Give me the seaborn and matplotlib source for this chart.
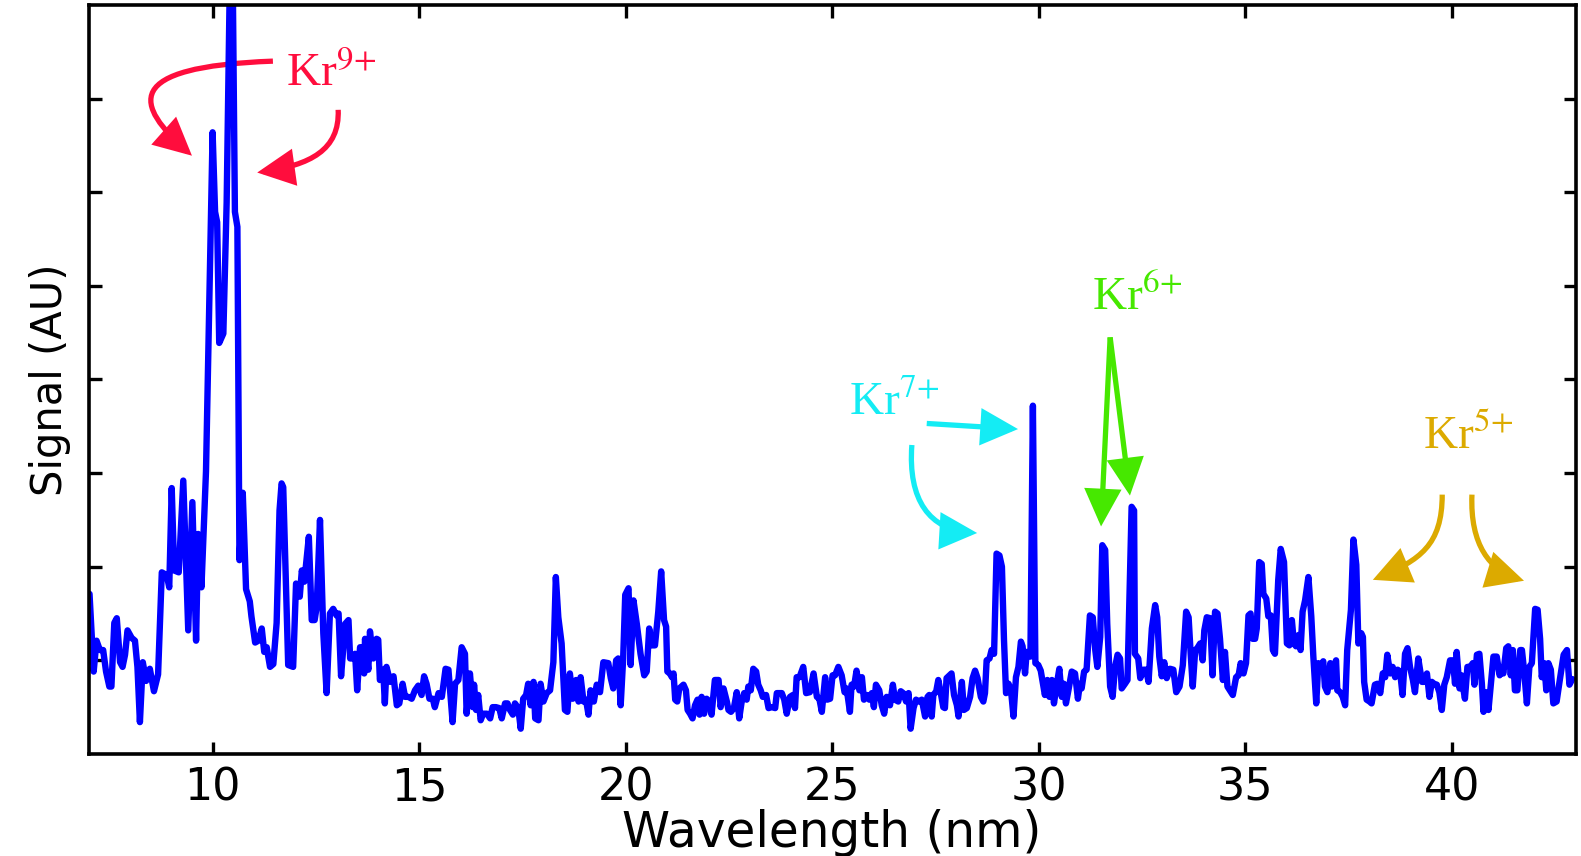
import numpy as np
import pandas as pd
import matplotlib
matplotlib.use("Agg")
import matplotlib.pyplot as plt
import seaborn as sns
from matplotlib.patches import FancyArrowPatch
from matplotlib.path import Path

# ---------------- data ----------------
wl_a = [7.02, 7.12, 7.19, 7.27, 7.35, 7.42, 7.50, 7.55, 7.62, 7.68,
        7.76, 7.82, 7.88, 7.94, 8.04, 8.12, 8.18, 8.24, 8.31, 8.39,
        8.48, 8.58, 8.68, 8.77, 8.89, 8.95, 9.01, 9.07, 9.18, 9.29,
        9.41, 9.51, 9.60, 9.65, 9.73, 9.84, 10.00, 10.06, 10.11, 10.16,
        10.26, 10.34, 10.46, 10.54, 10.60, 10.65, 10.73, 10.81, 10.90, 10.94,
        11.03, 11.11, 11.19, 11.25, 11.31, 11.39, 11.47, 11.55, 11.62, 11.67,
        11.71]
sig_a = [1.71, 0.88, 1.21, 1.11, 1.11, 0.88, 0.72, 0.72, 1.40, 1.45,
         0.98, 0.93, 1.06, 1.32, 1.24, 1.21, 0.93, 0.34, 0.98, 0.78,
         0.91, 0.67, 0.85, 1.94, 1.91, 1.78, 2.84, 1.96, 1.94, 2.92,
         1.32, 2.69, 1.21, 2.35, 1.78, 3.02, 6.64, 5.79, 5.68, 4.39,
         4.49, 5.89, 9.60, 5.79, 5.63, 2.07, 2.79, 1.76, 1.63, 1.47,
         1.19, 1.21, 1.34, 1.09, 1.14, 0.93, 0.96, 1.40, 2.60, 2.89,
         2.85]

wl_b = [11.83, 11.95, 12.02, 12.11, 12.16, 12.22, 12.33, 12.40, 12.47, 12.52,
        12.60, 12.68, 12.76, 12.84, 12.92, 13.00, 13.05, 13.11, 13.21, 13.29,
        13.33, 13.41, 13.45, 13.50, 13.57, 13.61, 13.67, 13.69, 13.77, 13.81,
        13.89, 13.97, 14.01, 14.05, 14.13, 14.17, 14.21, 14.30, 14.38, 14.46,
        14.52, 14.60, 14.66, 14.74, 14.82, 14.90, 14.98, 15.06, 15.12, 15.18,
        15.25, 15.33, 15.38, 15.47, 15.55, 15.64, 15.71, 15.81, 15.87, 15.95,
        16.03, 16.11, 16.15, 16.23, 16.30]
sig_b = [0.95, 0.93, 1.82, 1.68, 1.96, 1.84, 2.32, 1.43, 1.43, 1.57,
         2.50, 1.29, 0.65, 1.50, 1.55, 1.48, 1.50, 0.83, 1.39, 1.43,
         1.02, 1.02, 1.07, 0.68, 1.14, 1.14, 0.86, 1.23, 0.90, 1.31,
         1.02, 1.23, 1.22, 0.79, 0.90, 0.54, 0.93, 0.77, 0.83, 0.52,
         0.54, 0.75, 0.61, 0.61, 0.59, 0.68, 0.73, 0.63, 0.83, 0.75,
         0.59, 0.59, 0.50, 0.65, 0.61, 0.91, 0.90, 0.34, 0.75, 0.79,
         1.14, 1.07, 0.43, 0.86, 0.50]

wl_c = [16.33, 16.38, 16.43, 16.49, 16.55, 16.64, 16.72, 16.78, 16.86, 16.94,
        17.00, 17.08, 17.14, 17.20, 17.27, 17.32, 17.40, 17.46, 17.52, 17.59,
        17.64, 17.70, 17.77, 17.81, 17.89, 17.94, 18.01, 18.09, 18.17, 18.25,
        18.31, 18.37, 18.45, 18.53, 18.59, 18.65, 18.72, 18.80, 18.86, 18.91,
        18.98, 19.04, 19.10, 19.15, 19.23, 19.30, 19.38, 19.46, 19.58, 19.64,
        19.70, 19.77, 19.82, 19.88, 19.94, 19.99, 20.07, 20.12, 20.19, 20.27,
        20.36, 20.45, 20.51, 20.57, 20.63, 20.71, 20.79, 20.86]
sig_c = [0.74, 0.47, 0.63, 0.36, 0.43, 0.43, 0.38, 0.50, 0.50, 0.49,
         0.38, 0.54, 0.54, 0.47, 0.42, 0.54, 0.49, 0.27, 0.59, 0.63,
         0.75, 0.52, 0.77, 0.38, 0.36, 0.75, 0.56, 0.65, 0.68, 0.98,
         1.89, 1.46, 1.18, 0.47, 0.45, 0.86, 0.59, 0.79, 0.56, 0.82,
         0.56, 0.58, 0.42, 0.68, 0.56, 0.74, 0.66, 0.98, 0.97, 0.81,
         0.70, 1.00, 1.02, 0.52, 1.02, 1.70, 1.77, 0.95, 1.64, 1.39,
         1.07, 0.84, 0.88, 1.34, 1.16, 1.16, 1.52, 1.95]

wl_d = [20.93, 20.98, 21.01, 21.07, 21.12, 21.16, 21.20, 21.25, 21.30, 21.40,
        21.46, 21.50, 21.56, 21.62, 21.68, 21.74, 21.79, 21.84, 21.90, 21.96,
        22.03, 22.08, 22.16, 22.25, 22.30, 22.37, 22.45, 22.49, 22.55, 22.62,
        22.69, 22.75, 22.81, 22.87, 22.93, 22.97, 23.03, 23.09, 23.16, 23.21,
        23.27, 23.32, 23.40, 23.46, 23.54, 23.62, 23.66, 23.78, 23.84, 23.90,
        23.98, 24.05, 24.10, 24.14, 24.21, 24.30, 24.37, 24.46, 24.55, 24.63,
        24.69, 24.75, 24.83, 24.88, 24.95, 25.01, 25.07, 25.15, 25.23, 25.30,
        25.35, 25.43]
sig_d = [1.43, 1.36, 0.88, 0.86, 0.82, 0.86, 0.58, 0.56, 0.70, 0.74,
         0.68, 0.47, 0.43, 0.38, 0.52, 0.58, 0.42, 0.61, 0.43, 0.59,
         0.56, 0.42, 0.79, 0.79, 0.50, 0.70, 0.56, 0.47, 0.45, 0.49,
         0.66, 0.38, 0.56, 0.65, 0.58, 0.72, 0.68, 0.91, 0.88, 0.74,
         0.68, 0.61, 0.63, 0.49, 0.50, 0.49, 0.65, 0.65, 0.58, 0.43,
         0.61, 0.63, 0.49, 0.82, 0.82, 0.93, 0.65, 0.66, 0.86, 0.61,
         0.59, 0.45, 0.82, 0.58, 0.59, 0.84, 0.84, 0.93, 0.84, 0.66,
         0.70, 0.45]

wl_e = [25.47, 25.53, 25.59, 25.66, 25.72, 25.77, 25.84, 25.90, 25.96, 26.01,
        26.06, 26.14, 26.20, 26.26, 26.32, 26.40, 26.47, 26.52, 26.60, 26.66,
        26.72, 26.79, 26.85, 26.90, 26.97, 27.03, 27.09, 27.17, 27.25, 27.31,
        27.35, 27.41, 27.45, 27.52, 27.57, 27.63, 27.69, 27.73, 27.77, 27.84,
        27.89, 27.95, 28.02, 28.06, 28.14, 28.19, 28.26, 28.34, 28.40, 28.46,
        28.52, 28.60, 28.66, 28.70, 28.74, 28.81, 28.86, 28.92, 28.98, 29.05,
        29.11, 29.16, 29.21, 29.27, 29.33, 29.39, 29.45, 29.51, 29.57, 29.61,
        29.67, 29.71, 29.80, 29.86, 29.92, 29.99, 30.05]
sig_e = [0.74, 0.72, 0.89, 0.68, 0.82, 0.58, 0.63, 0.58, 0.65, 0.50,
         0.74, 0.68, 0.52, 0.43, 0.61, 0.52, 0.74, 0.58, 0.56, 0.67,
         0.65, 0.56, 0.65, 0.27, 0.49, 0.58, 0.56, 0.58, 0.40, 0.61,
         0.63, 0.40, 0.63, 0.67, 0.79, 0.65, 0.50, 0.49, 0.81, 0.84,
         0.86, 0.63, 0.52, 0.40, 0.77, 0.47, 0.49, 0.61, 0.81, 0.89,
         0.81, 0.61, 0.56, 0.65, 1.00, 1.02, 1.11, 1.07, 2.14, 2.12,
         2.00, 1.22, 0.65, 0.75, 0.68, 0.40, 0.82, 0.93, 1.20, 1.15,
         0.86, 1.09, 1.04, 3.72, 0.97, 0.95, 0.89]

wl_f = [30.15, 30.21, 30.26, 30.32, 30.37, 30.44, 30.50, 30.56, 30.61, 30.66,
        30.72, 30.80, 30.88, 30.95, 31.00, 31.04, 31.10, 31.16, 31.24, 31.31,
        31.37, 31.42, 31.49, 31.54, 31.61, 31.66, 31.73, 31.79, 31.85, 31.91,
        31.97, 32.01, 32.09, 32.15, 32.25, 32.31, 32.33, 32.41, 32.46, 32.54,
        32.60, 32.66, 32.74, 32.82, 32.87, 32.92, 32.98, 33.04, 33.10, 33.18,
        33.26, 33.33, 33.41, 33.49, 33.57, 33.63, 33.68, 33.73, 33.79, 33.84,
        33.91, 33.97, 34.01, 34.07, 34.15, 34.21, 34.27, 34.33, 34.39, 34.46,
        34.51, 34.57]
sig_f = [0.63, 0.79, 0.61, 0.79, 0.54, 0.75, 0.91, 0.61, 0.75, 0.54,
         0.68, 0.88, 0.86, 0.59, 0.75, 0.70, 0.88, 0.90, 1.48, 1.46,
         1.11, 0.93, 1.25, 2.23, 2.18, 1.39, 0.72, 0.61, 0.93, 1.06,
         1.02, 0.70, 0.75, 0.79, 2.64, 2.60, 1.07, 1.02, 0.81, 0.90,
         0.90, 0.77, 1.34, 1.59, 1.46, 1.04, 0.83, 0.98, 0.81, 0.91,
         0.90, 0.66, 0.72, 0.95, 1.52, 1.46, 1.07, 0.72, 1.11, 1.13,
         1.18, 1.00, 1.32, 1.46, 1.45, 0.84, 1.52, 1.50, 1.23, 0.79,
         1.09, 0.72]

wl_g = [34.70, 34.78, 34.84, 34.89, 34.96, 35.02, 35.08, 35.13, 35.18, 35.24,
        35.28, 35.34, 35.40, 35.44, 35.51, 35.56, 35.62, 35.67, 35.72, 35.80,
        35.86, 35.94, 36.01, 36.07, 36.13, 36.18, 36.23, 36.29, 36.34, 36.39,
        36.45, 36.53, 36.60, 36.65, 36.72, 36.77, 36.83, 36.89, 36.93, 36.99,
        37.06, 37.10, 37.15, 37.20, 37.23, 37.30, 37.36, 37.42, 37.47, 37.56,
        37.62, 37.69, 37.74, 37.81, 37.85, 37.88, 37.94, 38.01, 38.06, 38.14,
        38.20, 38.27, 38.33, 38.39, 38.44, 38.51, 38.57, 38.63, 38.69, 38.75,
        38.81, 38.87, 38.93, 38.99, 39.06, 39.11, 39.19]
sig_g = [0.63, 0.82, 0.84, 0.97, 0.86, 0.97, 1.48, 1.50, 1.23, 1.23,
         1.34, 2.05, 2.03, 1.71, 1.66, 1.47, 1.48, 1.11, 1.07, 1.86,
         2.19, 2.05, 1.18, 1.16, 1.43, 1.18, 1.15, 1.27, 1.11, 1.52,
         1.64, 1.89, 1.47, 1.04, 0.54, 0.97, 0.93, 0.99, 0.72, 0.66,
         0.97, 0.72, 0.93, 1.00, 0.68, 0.66, 0.61, 0.52, 1.11, 1.54,
         2.29, 2.02, 1.18, 1.29, 1.25, 0.77, 0.58, 0.56, 0.54, 0.74,
         0.75, 0.65, 0.86, 0.82, 1.06, 0.86, 0.93, 0.82, 0.90, 0.88,
         0.63, 1.07, 1.13, 0.93, 0.79, 0.66, 1.02]

wl_h = [39.28, 39.33, 39.40, 39.46, 39.52, 39.57, 39.64, 39.70, 39.76, 39.82,
        39.88, 39.96, 40.03, 40.08, 40.12, 40.19, 40.24, 40.28, 40.32, 40.38,
        40.45, 40.51, 40.55, 40.61, 40.67, 40.73, 40.77, 40.83, 40.89, 40.95,
        41.01, 41.09, 41.16, 41.21, 41.25, 41.32, 41.37, 41.43, 41.48, 41.53,
        41.59, 41.66, 41.70, 41.75, 41.82, 41.88, 41.94, 42.02, 42.08, 42.14,
        42.18, 42.24, 42.29, 42.34, 42.40, 42.46, 42.54, 42.61, 42.71, 42.79,
        42.85, 42.92]
sig_h = [0.77, 0.77, 0.86, 0.61, 0.77, 0.75, 0.74, 0.66, 0.47, 0.74,
         0.82, 1.00, 1.00, 0.75, 1.09, 0.70, 0.84, 0.70, 0.59, 0.93,
         0.93, 0.97, 0.74, 1.06, 1.07, 0.75, 0.45, 0.66, 0.47, 0.75,
         1.04, 1.04, 0.84, 0.91, 0.86, 1.13, 1.15, 0.84, 1.11, 0.68,
         0.68, 1.11, 1.11, 0.90, 0.54, 0.93, 0.97, 1.55, 1.54, 1.23,
         0.82, 0.97, 0.68, 0.97, 0.90, 0.54, 0.56, 0.77, 1.06, 1.11,
         0.74, 0.80]

x_ticks = [10, 15, 20, 25, 30, 35, 40]
y_ticks = [1, 2, 3, 4, 5, 6, 7]
x_label = "Wavelength (nm)"
y_label = "Signal (AU)"

ion_labels = [r"Kr$^{9{+}}$", r"Kr$^{7{+}}$", r"Kr$^{6{+}}$", r"Kr$^{5{+}}$"]
ion_colors = ["#ff0d3d", "#14ecf4", "#46e800", "#dcaa00"]

# ---------------- assemble ----------------
segments = [(wl_a, sig_a), (wl_b, sig_b), (wl_c, sig_c), (wl_d, sig_d),
            (wl_e, sig_e), (wl_f, sig_f), (wl_g, sig_g), (wl_h, sig_h)]
for i, (w, s) in enumerate(segments):
    if len(w) != len(s):
        raise ValueError(f"segment {i}: {len(w)} wl vs {len(s)} sig")
wavelength = np.concatenate([np.asarray(w, float) for w, _ in segments])
signal = np.concatenate([np.asarray(s, float) for _, s in segments])
df = pd.DataFrame({"wl": wavelength, "sig": signal})

sns.set_style("ticks")
plt.rcParams["font.family"] = ["DejaVu Sans"]
plt.rcParams["mathtext.fontset"] = "stix"
plt.rcParams["text.color"] = "black"
plt.rcParams["axes.labelcolor"] = "black"
plt.rcParams["xtick.color"] = "black"
plt.rcParams["ytick.color"] = "black"

fig = plt.figure(figsize=(15.81, 8.56), dpi=100)
ax = fig.add_axes([0.0561, 0.1192, 0.9405, 0.875])

sns.lineplot(data=df, x="wl", y="sig", ax=ax, color="#0000ff", linewidth=4.6,
             estimator=None, sort=False, legend=False)

ax.set_xlim(7, 43)
ax.set_ylim(0, 8)
ax.set_xticks(x_ticks)
ax.set_xticklabels([str(t) for t in x_ticks])
ax.set_yticks(y_ticks)
ax.set_yticklabels([])
ax.tick_params(axis="both", direction="in", length=9, width=2.4,
               top=True, right=True, labelsize=32, pad=9,
               color="black", labelcolor="black")
for sp in ax.spines.values():
    sp.set_linewidth(2.6)
    sp.set_color("black")
ax.set_xlabel(x_label, fontsize=35, labelpad=0, color="black")
ax.set_ylabel(y_label, fontsize=30, labelpad=4, color="black")

# ---------------- annotations ----------------
serif = ["Liberation Serif", "DejaVu Serif"]
text_pos = [(11.78, 7.13), (25.41, 3.62), (31.29, 4.74), (39.31, 3.26)]
for lab, col, (tx, ty) in zip(ion_labels, ion_colors, text_pos):
    ax.text(tx, ty, lab, family=serif, fontsize=34, color=col,
            ha="left", va="baseline")

head = "-|>,head_length=1.05,head_width=0.52"


def curved(points, color):
    codes = [Path.MOVETO, Path.CURVE4, Path.CURVE4, Path.CURVE4]
    p = FancyArrowPatch(path=Path(points, codes), arrowstyle=head,
                        mutation_scale=20, color=color, linewidth=3.8,
                        joinstyle="miter", capstyle="butt")
    ax.add_patch(p)


def straight(a, b, color):
    p = FancyArrowPatch(posA=a, posB=b, arrowstyle=head, mutation_scale=20,
                        color=color, linewidth=3.8, shrinkA=0, shrinkB=0,
                        joinstyle="miter", capstyle="butt")
    ax.add_patch(p)


# Kr9+
curved([(11.46, 7.40), (7.76, 7.34), (8.12, 6.93), (9.50, 6.39)], ion_colors[0])
curved([(13.04, 6.88), (13.08, 6.45), (12.36, 6.29), (11.08, 6.21)], ion_colors[0])
# Kr7+
straight((27.29, 3.53), (29.50, 3.47), ion_colors[1])
curved([(26.93, 3.30), (26.83, 2.71), (27.36, 2.39), (28.51, 2.36)], ion_colors[1])
# Kr6+
straight((31.73, 4.45), (31.51, 2.43), ion_colors[2])
straight((31.73, 4.45), (32.21, 2.76), ion_colors[2])
# Kr5+
curved([(39.77, 2.77), (39.77, 2.23), (39.23, 2.07), (38.09, 1.86)], ion_colors[3])
curved([(40.49, 2.77), (40.44, 2.23), (40.93, 1.96), (41.75, 1.85)], ion_colors[3])

fig.savefig("out.png", dpi=100)
